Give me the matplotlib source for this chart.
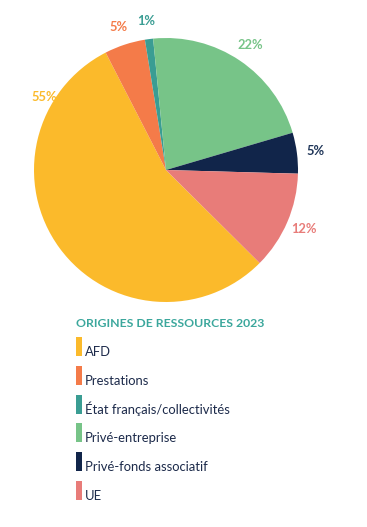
import matplotlib
matplotlib.use("Agg")
import matplotlib.pyplot as plt
from matplotlib.patches import Rectangle
import numpy as np

categories = ["AFD", "Prestations", "État français/collectivités",
              "Privé-entreprise", "Privé-fonds associatif", "UE"]
values = [55, 5, 1, 22, 5, 12]
labels = ["55%", "5%", "1%", "22%", "5%", "12%"]
colors = ["#FBBA2B", "#F47B49", "#3A9D93", "#77C488", "#11254A", "#E87C79"]
label_colors = ["#FBBA2B", "#F47B49", "#3A9D93", "#77C488", "#1F3558", "#E87C79"]
title = "ORIGINES DE RESSOURCES 2023"

W, H = 367, 527
fig = plt.figure(figsize=(W / 100, H / 100), dpi=100)
fig.patch.set_facecolor("white")
ax = fig.add_axes([0, 0, 1, 1])

cx, cy, R = 166, H - 170, 132
wedges, _ = ax.pie(values, colors=colors, startangle=-44.8, counterclock=False,
                   center=(cx, cy), radius=R,
                   wedgeprops=dict(linewidth=0))
ax.set_xlim(0, W)
ax.set_ylim(0, H)
ax.set_aspect("equal")
ax.axis("off")

font = "Lato"
for i, w in enumerate(wedges):
    mid = np.deg2rad((w.theta1 + w.theta2) / 2)
    dist = 1.14
    if i == 0:
        mid = np.deg2rad(90 - 301)
        dist = 1.08
    x = cx + dist * R * np.cos(mid)
    y = cy + dist * R * np.sin(mid)
    ax.text(x, y, labels[i], color=label_colors[i], fontsize=9.3,
            fontweight="bold", family=font, ha="center", va="center")

# legend
ax.text(76, H - 327, title, color="#3BA79C", fontsize=8.8, fontweight="bold",
        family=font, ha="left", va="baseline")
for i, (cat, col) in enumerate(zip(categories, colors)):
    bottom = 356 + i * 28.8
    ax.add_patch(Rectangle((76, H - bottom), 6, 19, color=col, lw=0))
    ax.text(85, H - bottom, cat, color="#1C2A4A", fontsize=9.4,
            family=font, ha="left", va="baseline")

fig.savefig("out.png", dpi=100, facecolor="white")
